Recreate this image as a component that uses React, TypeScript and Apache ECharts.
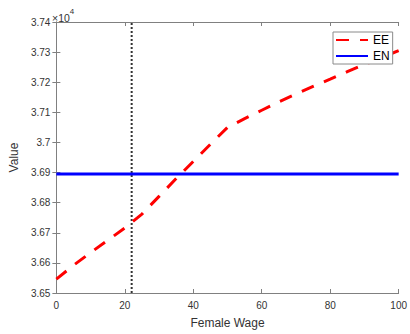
import React, { useEffect, useRef } from "react";
import * as echarts from "echarts";

const xValues = [0, 5, 10, 15, 20, 25, 30, 35, 40, 45, 50, 55, 60, 65, 70, 75, 80, 85, 90, 95, 100];
const eeValues = [36546, 36592, 36634, 36675, 36716, 36762, 36821, 36880, 36937, 36994, 37050, 37079, 37107, 37135, 37161, 37186, 37210, 37235, 37259, 37282, 37305];
const enValue = 36895;
const markerX = 22;
const yMin = 36500;
const yMax = 37400;
const yStep = 100;
const xMin = 0;
const xMax = 100;
const xStep = 20;

const FONT = "'Liberation Sans', Arial, Helvetica, sans-serif";
const AXIS_COLOR = "#808080";
const TEXT_COLOR = "#333333";

export default function App() {
  const ref = useRef<HTMLDivElement>(null);
  useEffect(() => {
    if (!ref.current) return;
    const chart = echarts.init(ref.current, null, { renderer: "svg" });
    const axisCommon = {
      axisLine: { show: true, lineStyle: { color: AXIS_COLOR, width: 1 } },
      axisTick: { show: true, inside: true, length: 4, lineStyle: { color: AXIS_COLOR } },
      splitLine: { show: false },
    };
    chart.setOption({
      animation: false,
      backgroundColor: "#ffffff",
      textStyle: { fontFamily: FONT },
      grid: { left: 51, right: 11, top: 22, bottom: 37, containLabel: false },
      legend: {
        data: ["EE", "EN"],
        orient: "vertical",
        left: 333,
        top: 32,
        itemWidth: 32,
        itemHeight: 14,
        itemGap: 4,
        itemTextGap: 4,
        padding: [2, 3, 2, 2],
        borderColor: "#8a8a8a",
        borderWidth: 1,
        backgroundColor: "#ffffff",
        itemStyle: { opacity: 0, borderWidth: 0 },
        textStyle: { fontSize: 12, color: "#000000", fontFamily: FONT },
      },
      xAxis: [
        {
          type: "value",
          min: xMin,
          max: xMax,
          interval: xStep,
          position: "bottom",
          ...axisCommon,
          axisLabel: { fontSize: 10, color: TEXT_COLOR, margin: 7, fontFamily: FONT },
          name: "Female Wage",
          nameLocation: "middle",
          nameGap: 24,
          nameTextStyle: { fontSize: 12, color: TEXT_COLOR, fontFamily: FONT },
        },
        {
          type: "value",
          min: xMin,
          max: xMax,
          interval: xStep,
          position: "top",
          ...axisCommon,
          axisLabel: { show: false },
        },
      ],
      yAxis: [
        {
          type: "value",
          min: yMin,
          max: yMax,
          interval: yStep,
          position: "left",
          ...axisCommon,
          axisLabel: {
            fontSize: 10,
            color: TEXT_COLOR,
            margin: 6,
            fontFamily: FONT,
            formatter: (v: number) => String(parseFloat((v / 10000).toFixed(2))),
          },
          name: "Value",
          nameLocation: "middle",
          nameGap: 31,
          nameTextStyle: { fontSize: 12, color: TEXT_COLOR, fontFamily: FONT },
        },
        {
          type: "value",
          min: yMin,
          max: yMax,
          interval: yStep,
          position: "right",
          ...axisCommon,
          axisLabel: { show: false },
        },
      ],
      series: [
        {
          name: "marker",
          type: "line",
          data: [
            [markerX, yMin],
            [markerX, yMax],
          ],
          symbol: "none",
          lineStyle: { color: "#333333", width: 2, type: [2, 2] },
          silent: true,
          z: 1,
        },
        {
          name: "EN",
          type: "line",
          data: [
            [xMin, enValue],
            [xMax, enValue],
          ],
          symbol: "none",
          lineStyle: { color: "#0000ff", width: 3, type: "solid" },
          itemStyle: { color: "#0000ff" },
          z: 2,
        },
        {
          name: "EE",
          type: "line",
          data: xValues.map((x, i) => [x, eeValues[i]]),
          symbol: "none",
          lineStyle: { color: "#ff0000", width: 3, type: [13, 11] },
          itemStyle: { color: "#ff0000" },
          z: 3,
        },
      ],
      graphic: [
        {
          type: "text",
          left: 52,
          top: 7,
          style: {
            text: "{a|×10}{b|4}",
            rich: {
              a: { fontSize: 10.5, fontFamily: FONT, fill: TEXT_COLOR, padding: [5, 0, 0, 0] },
              b: { fontSize: 8, fontFamily: FONT, fill: TEXT_COLOR, verticalAlign: "top" },
            },
          },
        },
      ],
    });
    return () => chart.dispose();
  }, []);
  return (
    <div
      ref={ref}
      style={{ position: "fixed", left: 0, top: 0, width: 410, height: 334 }}
    />
  );
}
